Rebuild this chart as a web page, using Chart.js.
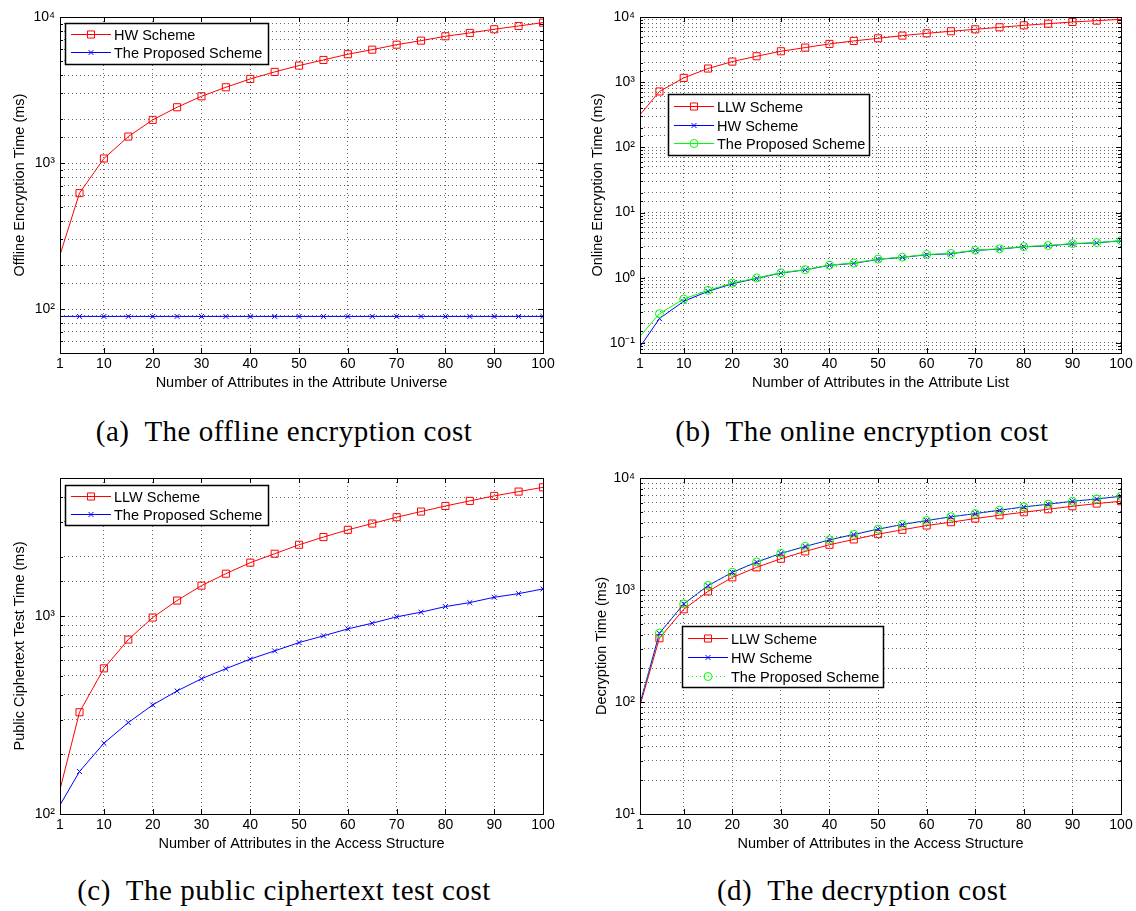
<!DOCTYPE html>
<html lang="en">
<head>
<meta charset="UTF-8">
<title>Offline / online encryption, ciphertext test and decryption cost</title>
<script src="https://cdn.jsdelivr.net/npm/chart.js@4.4.1/dist/chart.umd.min.js"></script>
<style>
  body { margin: 0; background: #fff; }
  #page { position: relative; width: 1136px; height: 911px; overflow: hidden; background: #fff; }
  canvas { position: absolute; }
  .cap {
    position: absolute;
    font-family: "Liberation Serif", "DejaVu Serif", serif;
    font-size: 29px;
    line-height: 28px;
    letter-spacing: 0.5px;
    white-space: nowrap;
    transform: translateX(-50%);
    color: #000;
  }
</style>
</head>
<body>
<div id="page">
  <canvas id="cA" width="568" height="400" style="left:0;top:0"></canvas>
  <canvas id="cB" width="556" height="400" style="left:580px;top:0"></canvas>
  <canvas id="cC" width="568" height="400" style="left:0;top:461px"></canvas>
  <canvas id="cD" width="556" height="400" style="left:580px;top:461px"></canvas>
  <div class="cap" style="left:284px;top:417px">(a)&nbsp; The offline encryption cost</div>
  <div class="cap" style="left:862px;top:417px">(b)&nbsp; The online encryption cost</div>
  <div class="cap" style="left:284px;top:876px">(c)&nbsp; The public ciphertext test cost</div>
  <div class="cap" style="left:862px;top:876px">(d)&nbsp; The decryption cost</div>
</div>
<script>
// number of attributes (x values) and x tick labels
const attrs = [1, 5, 10, 15, 20, 25, 30, 35, 40, 45, 50, 55, 60, 65, 70, 75, 80, 85, 90, 95, 100];
const xTicks = [1, 10, 20, 30, 40, 50, 60, 70, 80, 90, 100];

// (a) offline encryption time (ms)
const offlineHW = [235, 622, 1074, 1518, 1974, 2410, 2864, 3302, 3765, 4206, 4648, 5080, 5560, 5975, 6465, 6886, 7380, 7780, 8240, 8680, 9150];
const offlineProposed = [89, 89, 89, 89, 89, 89, 89, 89, 89, 89, 89, 89, 89, 89, 89, 89, 89, 89, 89, 89, 89];

// (b) online encryption time (ms)
const onlineLLW = [316, 720, 1164, 1620, 2070, 2500, 2980, 3394, 3864, 4295, 4710, 5180, 5620, 6040, 6475, 6950, 7450, 7900, 8380, 8790, 9210];
const onlineHW = [0.087, 0.236, 0.435, 0.618, 0.809, 0.977, 1.18, 1.32, 1.55, 1.66, 1.91, 2.05, 2.25, 2.33, 2.62, 2.75, 2.98, 3.09, 3.31, 3.43, 3.68];
const onlineProposed = [0.126, 0.281, 0.471, 0.64, 0.828, 0.99, 1.19, 1.33, 1.56, 1.68, 1.93, 2.07, 2.27, 2.36, 2.64, 2.78, 3.0, 3.12, 3.34, 3.46, 3.7];

// (c) public ciphertext test time (ms)
const testLLW = [133, 327, 545, 762, 985, 1200, 1428, 1641, 1866, 2070, 2298, 2513, 2735, 2943, 3167, 3383, 3610, 3830, 4058, 4268, 4487];
const testProposed = [111, 164, 228, 290, 356, 419, 483, 543, 607, 668, 736, 796, 863, 922, 993, 1048, 1119, 1172, 1247, 1301, 1374];

// (d) decryption time (ms)
const decLLW = [93, 371, 673, 972, 1297, 1592, 1902, 2210, 2534, 2827, 3152, 3446, 3766, 4030, 4345, 4652, 4945, 5260, 5594, 5912, 6200];
const decHW = [97, 411, 750, 1094, 1436, 1775, 2120, 2447, 2806, 3130, 3494, 3845, 4172, 4500, 4812, 5155, 5520, 5832, 6200, 6500, 6870];
const decProposed = [97, 413, 752, 1097, 1440, 1780, 2126, 2452, 2812, 3137, 3500, 3852, 4180, 4508, 4820, 5163, 5530, 5840, 6210, 6510, 6880];

Chart.defaults.font.family = '"Liberation Sans", Arial, sans-serif';
Chart.defaults.color = '#000';

const STYLES = {
  red:   { color: '#ff0000', marker: 'rect',     r: 5 },
  blue:  { color: '#0000ff', marker: 'crossRot', r: 3.5 },
  green: { color: '#00ff00', marker: 'circle',   r: 4 }
};

const SUP = { '-': '\u207B', '0': '\u2070', '1': '\u00B9', '2': '\u00B2', '3': '\u00B3', '4': '\u2074' };
function isPow10(v) {
  const e = Math.log10(v);
  return Math.abs(e - Math.round(e)) < 1e-6;
}
function logLabel(v) {
  if (!isPow10(v)) return '';
  return '10' + String(Math.round(Math.log10(v))).split('').map(c => SUP[c]).join('');
}

function drawMarker(ctx, style, r, x, y) {
  ctx.beginPath();
  if (style === 'rect') {
    const s = Math.SQRT1_2 * r;
    ctx.rect(x - s, y - s, 2 * s, 2 * s);
  } else if (style === 'crossRot') {
    const s = Math.SQRT1_2 * r;
    ctx.moveTo(x - s, y - s); ctx.lineTo(x + s, y + s);
    ctx.moveTo(x - s, y + s); ctx.lineTo(x + s, y - s);
  } else {
    ctx.arc(x, y, r, 0, Math.PI * 2);
  }
  ctx.stroke();
}

// box round the axes with inward ticks, like the original plot
const axesFrame = {
  id: 'axesFrame',
  afterDatasetsDraw(chart) {
    const { ctx, chartArea: a, scales: { x, y } } = chart;
    ctx.save();
    ctx.strokeStyle = '#000';
    ctx.lineWidth = 1;
    ctx.setLineDash([]);
    ctx.beginPath();
    x.ticks.forEach(t => {
      const px = Math.round(x.getPixelForValue(t.value)) + 0.5;
      ctx.moveTo(px, a.bottom); ctx.lineTo(px, a.bottom - 5);
      ctx.moveTo(px, a.top); ctx.lineTo(px, a.top + 5);
    });
    y.ticks.forEach(t => {
      const len = isPow10(t.value) ? 5 : 3;
      const py = Math.round(y.getPixelForValue(t.value)) + 0.5;
      ctx.moveTo(a.left, py); ctx.lineTo(a.left + len, py);
      ctx.moveTo(a.right, py); ctx.lineTo(a.right - len, py);
    });
    ctx.stroke();
    ctx.strokeRect(Math.round(a.left) + 0.5, Math.round(a.top) + 0.5, Math.round(a.width), Math.round(a.height));
    ctx.restore();
  }
};

// MATLAB-style legend box placed inside the axes
const legendBox = {
  id: 'legendBox',
  afterDraw(chart, args, opts) {
    const ctx = chart.ctx;
    const L = opts.box;
    if (!L) return;
    ctx.save();
    ctx.fillStyle = '#fff';
    ctx.fillRect(L.x, L.y, L.w, L.h);
    ctx.strokeStyle = '#000';
    ctx.lineWidth = 1.5;
    ctx.strokeRect(L.x + 0.5, L.y + 0.5, L.w, L.h);
    ctx.font = '14.5px "Liberation Sans", Arial, sans-serif';
    ctx.textBaseline = 'middle';
    chart.data.datasets.forEach((ds, i) => {
      const cy = Math.round(L.y + L.first + i * L.step) + 0.5;
      const st = STYLES[ds.kind];
      ctx.strokeStyle = st.color;
      ctx.lineWidth = 1;
      ctx.setLineDash(ds.borderDash || []);
      ctx.beginPath();
      ctx.moveTo(L.x + 6, cy);
      ctx.lineTo(L.x + 46, cy);
      ctx.stroke();
      ctx.setLineDash([]);
      drawMarker(ctx, st.marker, st.r, L.x + 26, cy);
      ctx.fillStyle = '#000';
      ctx.fillText(ds.label, L.x + 49, cy + 1);
    });
    ctx.restore();
  }
};

function makeChart(id, cfg) {
  const datasets = cfg.series.map((s, i) => {
    const st = STYLES[s.kind];
    return {
      label: s.label,
      kind: s.kind,
      data: attrs.map((a, j) => ({ x: a, y: s.data[j] })),
      borderColor: st.color,
      backgroundColor: 'rgba(0,0,0,0)',
      borderWidth: 1,
      borderDash: s.dash || [],
      tension: 0,
      pointStyle: st.marker,
      pointRadius: c => (c.dataIndex === 0 ? 0 : st.r),
      pointBorderWidth: 1,
      pointBorderColor: st.color,
      pointBackgroundColor: 'rgba(0,0,0,0)',
      order: cfg.series.length - i
    };
  });

  return new Chart(document.getElementById(id), {
    type: 'line',
    data: { datasets },
    options: {
      responsive: false,
      animation: false,
      devicePixelRatio: 1,
      layout: { padding: { top: 17, right: cfg.padRight, left: 0, bottom: 0 } },
      plugins: {
        legend: { display: false },
        tooltip: { enabled: false },
        legendBox: { box: cfg.legend }
      },
      scales: {
        x: {
          type: 'linear',
          min: 1,
          max: 100,
          afterBuildTicks: s => { s.ticks = xTicks.map(v => ({ value: v })); },
          afterFit: s => { s.height = 47; },
          ticks: { font: { size: 14 }, padding: 3, maxRotation: 0, autoSkip: false, callback: v => String(v) },
          grid: { color: 'rgba(0,0,0,0.6)', lineWidth: 1, drawTicks: false },
          border: { display: false, dash: [1, 3] },
          title: { display: true, text: cfg.xTitle, font: { size: 14.5 }, padding: { top: 0, bottom: 8 } }
        },
        y: {
          type: 'logarithmic',
          min: cfg.yMin,
          max: cfg.yMax,
          afterFit: s => { s.width = 60; },
          ticks: { font: { size: 14 }, padding: 5, autoSkip: false, callback: v => logLabel(v) },
          grid: { color: 'rgba(0,0,0,0.6)', lineWidth: 1, drawTicks: false },
          border: { display: false, dash: [1, 3] },
          title: { display: true, text: cfg.yTitle, font: { size: 14.5 }, padding: { top: cfg.yTitlePad, bottom: 0 } }
        }
      }
    },
    plugins: [axesFrame, legendBox]
  });
}

makeChart('cA', {
  yMin: 50, yMax: 10000, padRight: 25, yTitlePad: 11,
  xTitle: 'Number of Attributes in the Attribute Universe',
  yTitle: 'Offline Encryption Time (ms)',
  legend: { x: 65, y: 23, w: 203, h: 41, first: 10.5, step: 18 },
  series: [
    { label: 'HW Scheme', kind: 'red', data: offlineHW },
    { label: 'The Proposed Scheme', kind: 'blue', data: offlineProposed }
  ]
});

makeChart('cB', {
  yMin: 0.07, yMax: 10000, padRight: 15, yTitlePad: 9,
  xTitle: 'Number of Attributes in the Attribute List',
  yTitle: 'Online Encryption Time (ms)',
  legend: { x: 88, y: 94, w: 201, h: 61, first: 12, step: 18.5 },
  series: [
    { label: 'LLW Scheme', kind: 'red', data: onlineLLW },
    { label: 'HW Scheme', kind: 'blue', data: onlineHW },
    { label: 'The Proposed Scheme', kind: 'green', data: onlineProposed }
  ]
});

makeChart('cC', {
  yMin: 100, yMax: 5000, padRight: 25, yTitlePad: 11,
  xTitle: 'Number of Attributes in the Access Structure',
  yTitle: 'Public Ciphertext Test Time (ms)',
  legend: { x: 65, y: 24, w: 203, h: 40, first: 10.5, step: 18 },
  series: [
    { label: 'LLW Scheme', kind: 'red', data: testLLW },
    { label: 'The Proposed Scheme', kind: 'blue', data: testProposed }
  ]
});

makeChart('cD', {
  yMin: 10, yMax: 10000, padRight: 15, yTitlePad: 13,
  xTitle: 'Number of Attributes in the Access Structure',
  yTitle: 'Decryption Time (ms)',
  legend: { x: 102, y: 165, w: 201, h: 61, first: 12, step: 19 },
  series: [
    { label: 'LLW Scheme', kind: 'red', data: decLLW },
    { label: 'HW Scheme', kind: 'blue', data: decHW },
    { label: 'The Proposed Scheme', kind: 'green', data: decProposed, dash: [1, 3] }
  ]
});
</script>
</body>
</html>
